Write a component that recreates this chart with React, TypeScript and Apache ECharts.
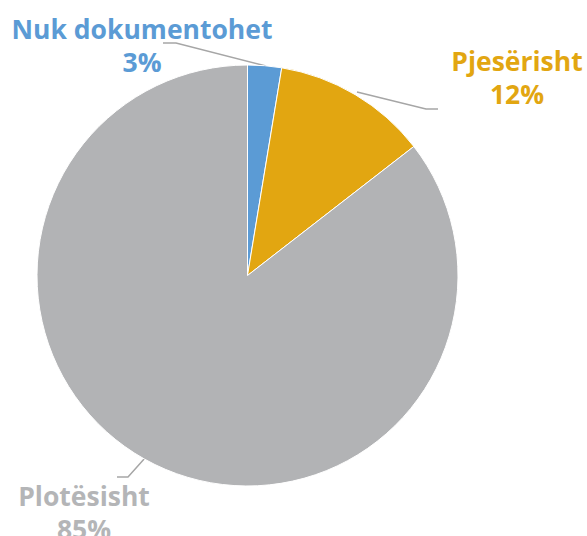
import React, { useEffect, useRef } from "react";
import * as echarts from "echarts";

const categories = ["Nuk dokumentohet", "Pjesërisht", "Plotësisht"];
const values = [2.6, 11.9, 85.5];
const percentLabels = ["3%", "12%", "85%"];
const colors = ["#5B9BD5", "#E2A611", "#B2B3B5"];
const labelColors = ["#5B9BD5", "#E2A611", "#B4B5B7"];

// label placement (center x, center y) and leader line points
const labelPos = [
  { x: 142, y: 45, line: [[266, 66], [176, 43], [163, 43]] },
  { x: 517, y: 77, line: [[357, 92], [426, 109], [438, 109]] },
  { x: 84, y: 512, line: [[145, 458], [128, 477], [117, 477]] },
];

export default function App() {
  const ref = useRef<HTMLDivElement>(null);
  useEffect(() => {
    if (!ref.current) return;
    const chart = echarts.init(ref.current, undefined, { renderer: "svg" });
    chart.setOption({
      animation: false,
      series: [
        {
          type: "pie",
          center: [247.5, 275.5],
          radius: [0, 210.5],
          startAngle: 90,
          clockwise: true,
          avoidLabelOverlap: false,
          itemStyle: { borderColor: "#ffffff", borderWidth: 1 },
          label: {
            show: true,
            fontFamily: "Open Sans",
            fontWeight: "bold",
            fontSize: 26.5,
            lineHeight: 33,
            align: "center",
          },
          labelLine: {
            show: true,
            lineStyle: { color: "#A6A6A6", width: 1.5 },
          },
          labelLayout: (params: any) => {
            const p = labelPos[params.dataIndex];
            return {
              x: p.x,
              y: p.y,
              align: "center",
              verticalAlign: "middle",
              labelLinePoints: p.line,
            };
          },
          data: categories.map((name, i) => ({
            name,
            value: values[i],
            itemStyle: { color: colors[i] },
            label: {
              color: labelColors[i],
              formatter: name + "\n" + percentLabels[i],
            },
          })),
        },
      ],
    });
    return () => chart.dispose();
  }, []);
  return (
    <div
      ref={ref}
      style={{ position: "fixed", left: 0, top: 0, width: 587, height: 536, background: "#fff" }}
    />
  );
}
